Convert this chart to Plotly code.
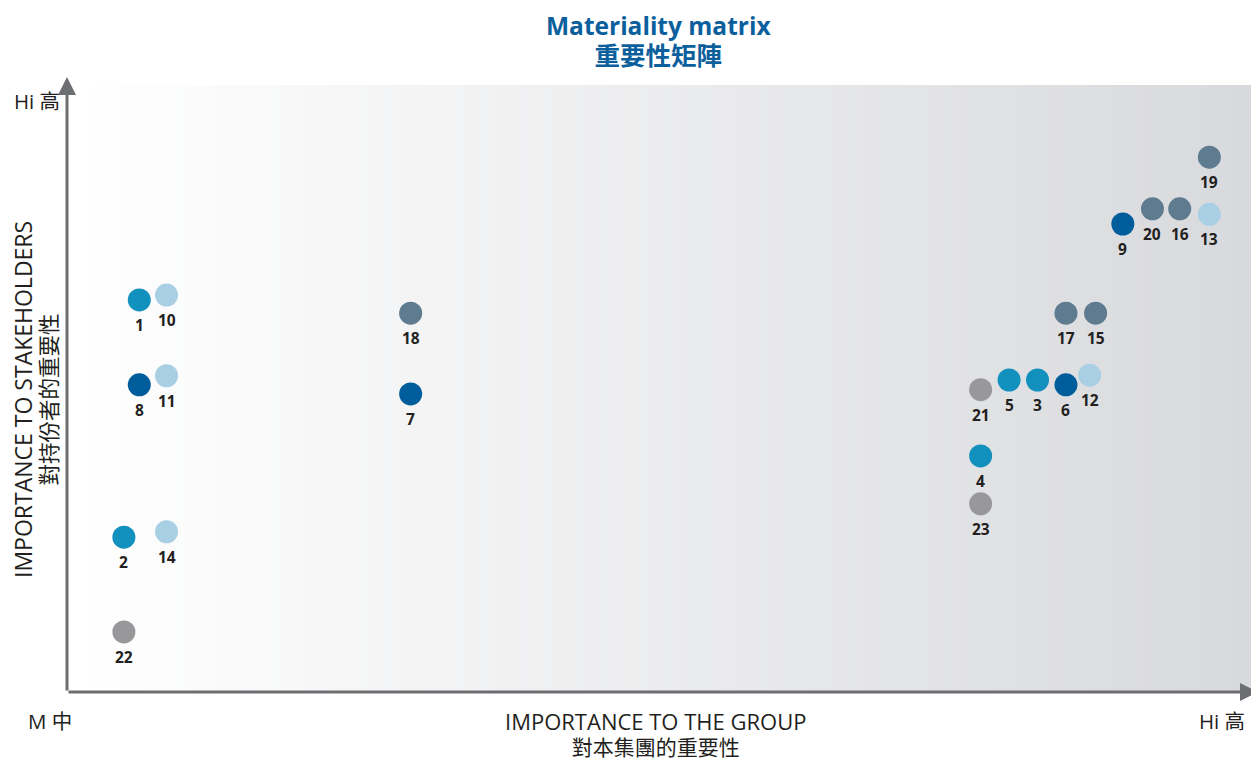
import plotly.graph_objects as go

# Issue numbers, positions (0-100 scale), and category group
labels = ["1", "10", "8", "11", "2", "14", "22", "18", "7", "21", "5", "3", "6", "12",
          "17", "15", "4", "23", "9", "20", "16", "13", "19"]
group_x = [6.1, 8.4, 6.1, 8.4, 4.8, 8.4, 4.8, 29.0, 29.0, 77.1, 79.5, 81.9, 84.3, 86.3,
           84.3, 86.8, 77.1, 77.1, 89.1, 91.6, 93.9, 96.4, 96.4]
stake_y = [64.6, 65.4, 50.6, 52.1, 25.5, 26.4, 9.9, 62.4, 49.1, 49.8, 51.4, 51.4, 50.6, 52.2,
           62.4, 62.4, 38.9, 31.0, 77.1, 79.6, 79.6, 78.7, 88.1]
category = ["teal", "light", "dark", "light", "teal", "light", "gray", "slate", "dark", "gray",
            "teal", "teal", "dark", "light", "slate", "slate", "teal", "gray", "dark", "slate",
            "slate", "light", "slate"]

palette = {"teal": "#1290be", "light": "#a9cfe4", "dark": "#005d9b",
           "slate": "#5e7b8f", "gray": "#98989b"}

OFF = 8  # browser body margin
W, H = 1259 - OFF, 760 - OFF
PL, PR, PT, PB = 67, 1252, 85, 692  # plot area in page pixels
L, R, T, B = PL - OFF, W - (PR - OFF), PT - OFF, H - (PB - OFF)

fig = go.Figure()
fig.add_trace(go.Scatter(
    x=group_x, y=stake_y, mode="markers",
    marker=dict(size=23, color=[palette[c] for c in category], line=dict(width=0)),
    hoverinfo="skip", cliponaxis=False, showlegend=False))

ann = []
for lab, x, y in zip(labels, group_x, stake_y):
    ann.append(dict(x=x, y=y, xref="x", yref="y", text=lab, showarrow=False,
                    yshift=-25, xanchor="center", yanchor="middle",
                    font=dict(family="Open Sans", size=15.5, color="#231f20", weight="bold")))

# background gradient (white -> light gray), left to right
shapes = []
n = 90
x_end = (1259 - PL) / (PR - PL)
c0 = (255, 255, 255)
c1 = (216, 217, 220)
for i in range(n):
    t = i / (n - 1)
    col = tuple(round(c0[k] + (c1[k] - c0[k]) * t) for k in range(3))
    shapes.append(dict(type="rect", xref="paper", yref="paper",
                       x0=x_end * i / n, x1=x_end * (i + 1) / n + 0.001, y0=0, y1=1,
                       fillcolor="rgb(%d,%d,%d)" % col, line=dict(width=0), layer="below"))

axis_col = "#6d6e72"
# vertical axis arrow
ann.append(dict(x=0, y=(PB - 77) / (PB - PT), xref="paper", yref="paper", text="", showarrow=True,
                ax=0, ay=PB - 77, arrowcolor=axis_col, arrowwidth=3, arrowhead=2, arrowsize=1.2,
                standoff=0, startstandoff=0))
# horizontal axis arrow
ann.append(dict(x=(1258 - PL) / (PR - PL), y=0, xref="paper", yref="paper", text="", showarrow=True,
                ax=-(1258 - PL), ay=0, arrowcolor=axis_col, arrowwidth=3, arrowhead=2, arrowsize=1.2,
                standoff=0, startstandoff=0))

def px(xp, yp):
    return (xp - PL) / (PR - PL), (PB - yp) / (PB - PT)

for text, xp, yp in [("Hi 高", 37, 101), ("M 中", 50, 721), ("Hi 高", 1222, 721)]:
    x, y = px(xp, yp)
    ann.append(dict(x=x, y=y, xref="paper", yref="paper", text=text, showarrow=False,
                    font=dict(family="Open Sans, Noto Sans CJK TC", size=20.5, color="#231f20"),
                    xanchor="center", yanchor="middle"))

# x-axis title (two lines in one text)
x, y = px(655, 733)
ann.append(dict(x=x, y=y, xref="paper", yref="paper",
                text=("<span style='font-size:22px'>IMPORTANCE TO THE GROUP</span><br>"
                      "<span style='font-size:21px;font-family:Noto Sans CJK TC'>對本集團的重要性</span>"),
                showarrow=False, align="center",
                font=dict(family="Open Sans, Noto Sans CJK TC", size=19.5, color="#231f20"),
                xanchor="center", yanchor="middle"))
# y-axis title (two lines in one text)
x, y = px(35, 400)
ann.append(dict(x=x, y=y, xref="paper", yref="paper",
                text=("<span style='font-size:23px'>IMPORTANCE TO STAKEHOLDERS</span><br>"
                      "<span style='font-size:21.5px;font-family:Noto Sans CJK TC'>對持份者的重要性</span>"),
                showarrow=False, align="center", textangle=-90,
                font=dict(family="Open Sans, Noto Sans CJK TC", size=19.5, color="#231f20"),
                xanchor="center", yanchor="middle"))
# main title
x, y = px(658, 41)
ann.append(dict(x=x, y=y, xref="paper", yref="paper",
                text=("<span style='font-size:24.5px;font-family:Open Sans'>Materiality matrix</span><br>"
                      "<span style='font-size:25.5px;font-family:Noto Sans CJK TC'>重要性矩陣</span>"),
                showarrow=False, align="center",
                font=dict(family="Open Sans, Noto Sans CJK TC", size=23, color="#0b5f9c", weight="bold"),
                xanchor="center", yanchor="middle"))

fig.update_layout(
    width=W, height=H, autosize=False,
    margin=dict(l=L, r=R, t=T, b=B),
    paper_bgcolor="white", plot_bgcolor="rgba(0,0,0,0)",
    xaxis=dict(range=[0, 100], showgrid=False, zeroline=False, showticklabels=False,
               showline=False, fixedrange=True),
    yaxis=dict(range=[0, 100], showgrid=False, zeroline=False, showticklabels=False,
               showline=False, fixedrange=True),
    shapes=shapes, annotations=ann)

fig.write_html("out.html")
